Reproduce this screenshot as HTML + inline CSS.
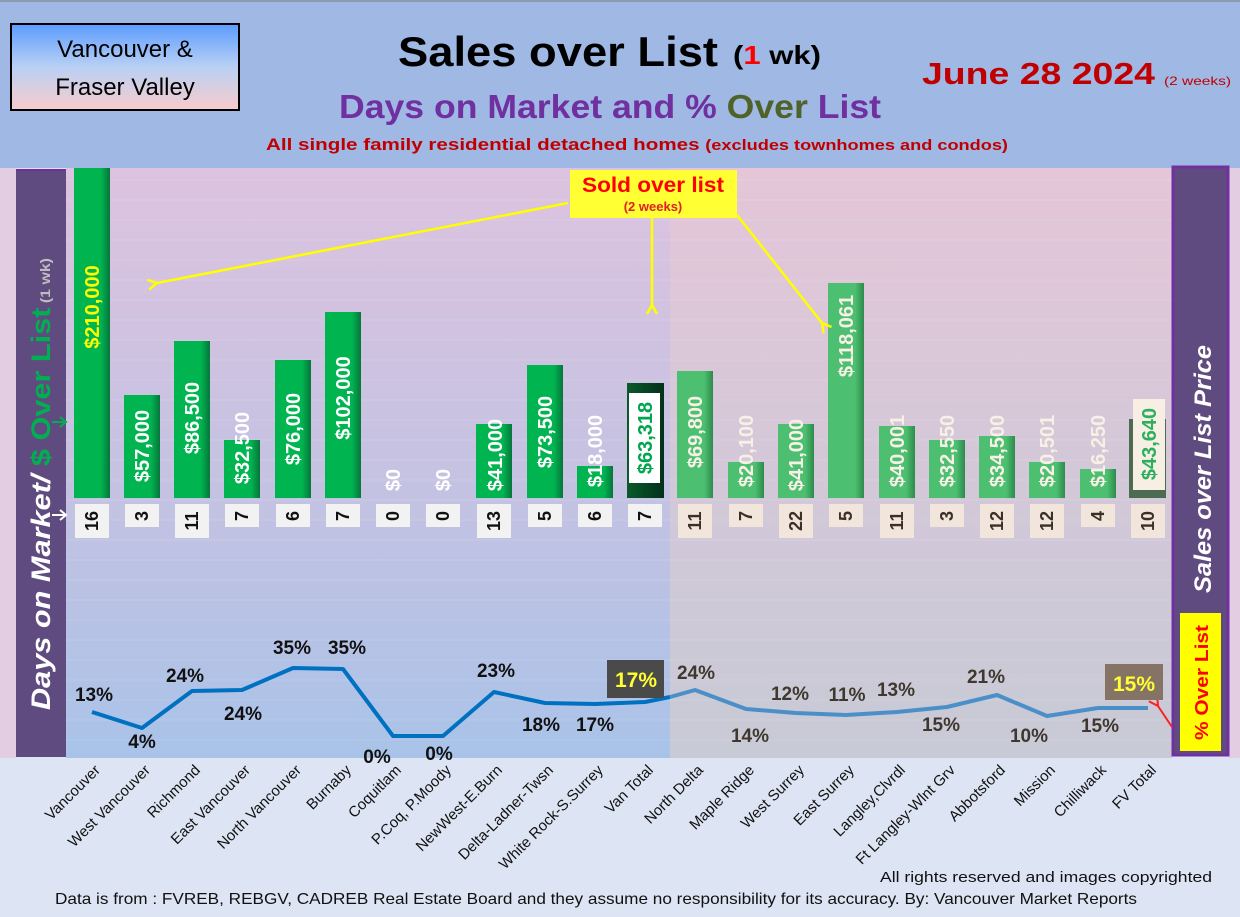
<!DOCTYPE html>
<html><head><meta charset="utf-8"><style>html,body{margin:0;padding:0;}svg{display:block;}</style></head>
<body>
<svg xmlns="http://www.w3.org/2000/svg" width="1240" height="917" viewBox="0 0 1240 917" font-family="'Liberation Sans', sans-serif">
<defs>
<linearGradient id="bgL" x1="0" y1="0" x2="0" y2="1"><stop offset="0" stop-color="#dcc3df"/><stop offset="0.55" stop-color="#c4c2e2"/><stop offset="1" stop-color="#a9c3e8"/></linearGradient>
<linearGradient id="bgR" x1="0" y1="0" x2="0" y2="1"><stop offset="0" stop-color="#e4c6d8"/><stop offset="0.55" stop-color="#d2c8d8"/><stop offset="1" stop-color="#c8cad6"/></linearGradient>
<linearGradient id="box" x1="0" y1="0" x2="0" y2="1"><stop offset="0" stop-color="#5c9cff"/><stop offset="0.5" stop-color="#b9d0f4"/><stop offset="1" stop-color="#f8cccc"/></linearGradient>
<linearGradient id="gV" x1="0" y1="0" x2="1" y2="0"><stop offset="0" stop-color="#00b450"/><stop offset="0.75" stop-color="#00b450"/><stop offset="1" stop-color="#06753a"/></linearGradient>
<linearGradient id="gF" x1="0" y1="0" x2="1" y2="0"><stop offset="0" stop-color="#4cc070"/><stop offset="0.75" stop-color="#4cc070"/><stop offset="1" stop-color="#2e8a4c"/></linearGradient>
<linearGradient id="gT" x1="0" y1="0" x2="1" y2="0"><stop offset="0" stop-color="#0a5a2a"/><stop offset="1" stop-color="#02301a"/></linearGradient>
<marker id="ah" markerWidth="12" markerHeight="12" refX="2" refY="6" orient="auto" markerUnits="userSpaceOnUse"><path d="M11,1 L2,6 L11,11" fill="none" stroke="#ffff00" stroke-width="2.5"/></marker>
<marker id="ar" markerWidth="12" markerHeight="12" refX="2" refY="6" orient="auto" markerUnits="userSpaceOnUse"><path d="M11,1 L2,6 L11,11" fill="none" stroke="#ff2020" stroke-width="2"/></marker>
</defs>
<rect width="1240" height="917" fill="#dde4f3"/>
<rect width="1240" height="168" fill="#9fb8e4"/>
<rect x="0" y="0" width="1240" height="2" fill="#8e9ab0"/>
<rect x="0" y="168" width="16" height="590" fill="#e2cde3"/>
<rect x="1229" y="168" width="11" height="590" fill="#e2cde3"/>
<rect x="66" y="168" width="604" height="590" fill="url(#bgL)"/>
<rect x="670" y="168" width="502" height="590" fill="url(#bgR)"/>
<g stroke="#ffffff" stroke-opacity="0.12" stroke-width="1">
<path d="M66,180H1172M66,200H1172M66,220H1172M66,240H1172M66,260H1172M66,280H1172M66,300H1172M66,320H1172M66,340H1172M66,360H1172M66,380H1172M66,400H1172M66,420H1172M66,440H1172M66,460H1172M66,480H1172M66,500H1172M66,520H1172M66,540H1172M66,560H1172M66,580H1172M66,600H1172M66,620H1172M66,640H1172M66,660H1172M66,680H1172M66,700H1172M66,720H1172M66,740H1172"/>
</g>
<!-- header -->
<rect x="11" y="24" width="228" height="86" fill="url(#box)" stroke="#000" stroke-width="2"/>
<text x="125" y="57" font-size="24" text-anchor="middle" fill="#000">Vancouver &amp;</text>
<text x="125" y="95" font-size="24" text-anchor="middle" fill="#000">Fraser Valley</text>
<text x="398" y="66" font-size="42" font-weight="bold" fill="#000" textLength="320" lengthAdjust="spacingAndGlyphs">Sales over List</text>
<text x="733" y="64" font-size="26" font-weight="bold" fill="#000" textLength="88" lengthAdjust="spacingAndGlyphs">(<tspan fill="#ff0000">1</tspan> wk)</text>
<text x="339" y="118" font-size="33" font-weight="bold" fill="#7030a0" textLength="542" lengthAdjust="spacingAndGlyphs">Days on Market and % <tspan fill="#4f6228">Over</tspan> List</text>
<text x="266" y="150" font-size="17" font-weight="bold" fill="#c00000" textLength="742" lengthAdjust="spacingAndGlyphs">All single family residential detached homes <tspan font-size="15">(excludes townhomes and condos)</tspan></text>
<text x="922" y="84" font-size="31" font-weight="bold" fill="#c00000" textLength="233" lengthAdjust="spacingAndGlyphs">June 28  2024</text>
<text x="1164" y="85" font-size="12" fill="#c00000" textLength="67" lengthAdjust="spacingAndGlyphs">(2 weeks)</text>
<!-- side panels -->
<rect x="16" y="169" width="50" height="588" fill="#5f4b80"/>
<rect x="16" y="169" width="50" height="2" fill="#7030a0"/>
<text transform="translate(50,710) rotate(-90)" font-size="27" font-weight="bold" fill="#fff" textLength="452" lengthAdjust="spacingAndGlyphs"><tspan font-style="italic">Days on Market/ </tspan><tspan fill="#00b050">$ Over List</tspan><tspan fill="#bdbdbd" font-size="14"> (1 wk)</tspan></text>
<path d="M52,422 H66 M60,417 L66,422 L60,427" stroke="#00b050" stroke-width="2" fill="none"/>
<path d="M52,515 H66 M60,510 L66,515 L60,520" stroke="#fff" stroke-width="2" fill="none"/>
<rect x="1173" y="167" width="55" height="588" fill="#5f4b80" stroke="#7030a0" stroke-width="3"/>
<text transform="translate(1211,593) rotate(-90)" font-size="24" font-weight="bold" font-style="italic" fill="#fff" textLength="248" lengthAdjust="spacingAndGlyphs">Sales over List Price</text>
<rect x="1180" y="613" width="41" height="138" fill="#ffff00"/>
<text transform="translate(1208,740) rotate(-90)" font-size="18" font-weight="bold" fill="#ff0000" textLength="115" lengthAdjust="spacingAndGlyphs">% Over List</text>
<!-- bars -->
<g id="bars">
<rect x="74" y="168" width="36" height="330" fill="url(#gV)"/>
<rect x="124" y="395" width="36" height="103" fill="url(#gV)"/>
<rect x="174" y="341" width="36" height="157" fill="url(#gV)"/>
<rect x="224" y="440" width="36" height="58" fill="url(#gV)"/>
<rect x="275" y="360" width="36" height="138" fill="url(#gV)"/>
<rect x="325" y="312" width="36" height="186" fill="url(#gV)"/>
<rect x="476" y="424" width="36" height="74" fill="url(#gV)"/>
<rect x="527" y="365" width="36" height="133" fill="url(#gV)"/>
<rect x="577" y="466" width="36" height="32" fill="url(#gV)"/>
<rect x="627" y="383" width="37" height="115" fill="url(#gT)"/>
<rect x="677" y="371" width="36" height="127" fill="url(#gF)"/>
<rect x="728" y="462" width="36" height="36" fill="url(#gF)"/>
<rect x="778" y="424" width="36" height="74" fill="url(#gF)"/>
<rect x="828" y="283" width="36" height="215" fill="url(#gF)"/>
<rect x="879" y="426" width="36" height="72" fill="url(#gF)"/>
<rect x="929" y="440" width="36" height="58" fill="url(#gF)"/>
<rect x="979" y="436" width="36" height="62" fill="url(#gF)"/>
<rect x="1029" y="462" width="36" height="36" fill="url(#gF)"/>
<rect x="1080" y="469" width="36" height="29" fill="url(#gF)"/>
<rect x="1129" y="419" width="37" height="79" fill="#4d6b50"/>
<rect x="629" y="393" width="31" height="90" fill="#fff"/>
<rect x="1133" y="399" width="32" height="91" fill="#f8efe4"/>
</g>
<g font-size="20" font-weight="bold" text-anchor="middle" fill="#fff">
<text transform="translate(99,307) rotate(-90)" fill="#ffff00">$210,000</text>
<text transform="translate(149,446) rotate(-90)">$57,000</text>
<text transform="translate(199,418) rotate(-90)">$86,500</text>
<text transform="translate(249,448) rotate(-90)">$32,500</text>
<text transform="translate(300,429) rotate(-90)">$76,000</text>
<text transform="translate(350,398) rotate(-90)">$102,000</text>
<text transform="translate(400,480) rotate(-90)">$0</text>
<text transform="translate(450,480) rotate(-90)">$0</text>
<text transform="translate(502,455) rotate(-90)">$41,000</text>
<text transform="translate(552,432) rotate(-90)">$73,500</text>
<text transform="translate(602,451) rotate(-90)">$18,000</text>
<text transform="translate(652,438) rotate(-90)" fill="#00a550">$63,318</text>
<g fill="#f8f0e6">
<text transform="translate(702,432) rotate(-90)">$69,800</text>
<text transform="translate(753,451) rotate(-90)">$20,100</text>
<text transform="translate(803,455) rotate(-90)">$41,000</text>
<text transform="translate(853,336) rotate(-90)">$118,061</text>
<text transform="translate(904,451) rotate(-90)">$40,001</text>
<text transform="translate(954,451) rotate(-90)">$32,550</text>
<text transform="translate(1004,451) rotate(-90)">$34,500</text>
<text transform="translate(1054,451) rotate(-90)">$20,501</text>
<text transform="translate(1105,451) rotate(-90)">$16,250</text>
</g>
<text transform="translate(1156,444) rotate(-90)" fill="#2cb060">$43,640</text>
</g>
<!-- DOM boxes -->
<g fill="#f2f2f2">
<rect x="75" y="504" width="34" height="34"/><rect x="125" y="504" width="34" height="23"/><rect x="175" y="504" width="34" height="34"/><rect x="225" y="504" width="34" height="23"/><rect x="276" y="504" width="34" height="23"/><rect x="326" y="504" width="34" height="23"/><rect x="376" y="504" width="34" height="23"/><rect x="426" y="504" width="34" height="23"/><rect x="477" y="504" width="34" height="34"/><rect x="528" y="504" width="34" height="23"/><rect x="578" y="504" width="34" height="23"/><rect x="628" y="504" width="34" height="23"/>
</g>
<g fill="#f2e6dc">
<rect x="678" y="504" width="34" height="34"/><rect x="729" y="504" width="34" height="23"/><rect x="779" y="504" width="34" height="34"/><rect x="829" y="504" width="34" height="23"/><rect x="880" y="504" width="34" height="34"/><rect x="930" y="504" width="34" height="23"/><rect x="980" y="504" width="34" height="34"/><rect x="1030" y="504" width="34" height="34"/><rect x="1081" y="504" width="34" height="23"/><rect x="1131" y="504" width="34" height="34"/>
</g>
<g font-size="18" font-weight="bold" text-anchor="middle" fill="#111">
<text transform="translate(98,521) rotate(-90)">16</text>
<text transform="translate(148,516) rotate(-90)">3</text>
<text transform="translate(198,521) rotate(-90)">11</text>
<text transform="translate(248,516) rotate(-90)">7</text>
<text transform="translate(299,516) rotate(-90)">6</text>
<text transform="translate(349,516) rotate(-90)">7</text>
<text transform="translate(399,516) rotate(-90)">0</text>
<text transform="translate(449,516) rotate(-90)">0</text>
<text transform="translate(500,521) rotate(-90)">13</text>
<text transform="translate(551,516) rotate(-90)">5</text>
<text transform="translate(601,516) rotate(-90)">6</text>
<text transform="translate(651,516) rotate(-90)">7</text>
<g fill="#3a3028">
<text transform="translate(701,521) rotate(-90)">11</text>
<text transform="translate(752,516) rotate(-90)">7</text>
<text transform="translate(802,521) rotate(-90)">22</text>
<text transform="translate(852,516) rotate(-90)">5</text>
<text transform="translate(903,521) rotate(-90)">11</text>
<text transform="translate(953,516) rotate(-90)">3</text>
<text transform="translate(1003,521) rotate(-90)">12</text>
<text transform="translate(1053,521) rotate(-90)">12</text>
<text transform="translate(1104,516) rotate(-90)">4</text>
<text transform="translate(1154,521) rotate(-90)">10</text>
</g>
</g>
<!-- callout -->
<rect x="570" y="170" width="167" height="48" fill="#ffff33"/>
<text x="653" y="192" font-size="21" font-weight="bold" fill="#ff0000" text-anchor="middle" textLength="142" lengthAdjust="spacingAndGlyphs">Sold over list</text>
<text x="653" y="211" font-size="13" font-weight="bold" fill="#e02020" text-anchor="middle">(2 weeks)</text>
<g stroke="#ffff00" stroke-width="2.5" fill="none">
<line x1="568" y1="203" x2="157" y2="283" marker-end="url(#ah)"/>
<line x1="652" y1="218" x2="652" y2="305" marker-end="url(#ah)"/>
<line x1="737" y1="215" x2="822" y2="323" marker-end="url(#ah)"/>
</g>
<!-- line -->
<polyline points="92,712 142,728 192,691 242,690 293,668 343,669 393,736 443,736 494,692 545,703 595,704 645,702 670,697" fill="none" stroke="#0070c0" stroke-width="4" stroke-linejoin="round"/>
<polyline points="670,697 695,690 746,709 796,713 846,715 897,712 947,707 997,695 1047,716 1098,708 1148,708" fill="none" stroke="#4a8fc8" stroke-width="4" stroke-linejoin="round"/>
<line x1="1172" y1="727" x2="1158" y2="706" stroke="#ff2020" stroke-width="2" marker-end="url(#ar)"/>
<g font-size="19" font-weight="bold" text-anchor="middle" fill="#111">
<text x="94" y="701">13%</text>
<text x="142" y="748">4%</text>
<text x="185" y="682">24%</text>
<text x="243" y="720">24%</text>
<text x="292" y="654">35%</text>
<text x="347" y="654">35%</text>
<text x="377" y="763">0%</text>
<text x="439" y="760">0%</text>
<text x="496" y="677">23%</text>
<text x="541" y="731">18%</text>
<text x="595" y="731">17%</text>
<g fill="#40372f">
<text x="696" y="679">24%</text>
<text x="750" y="742">14%</text>
<text x="790" y="700">12%</text>
<text x="847" y="701">11%</text>
<text x="896" y="696">13%</text>
<text x="941" y="731">15%</text>
<text x="986" y="683">21%</text>
<text x="1029" y="742">10%</text>
<text x="1100" y="732">15%</text>
</g>
</g>
<rect x="607" y="660" width="57" height="38" fill="#4a4a4a"/>
<text x="636" y="687" font-size="21" font-weight="bold" fill="#ffff33" text-anchor="middle">17%</text>
<rect x="1105" y="664" width="58" height="36" fill="#857466"/>
<text x="1134" y="691" font-size="21" font-weight="bold" fill="#ffff33" text-anchor="middle">15%</text>
<!-- category labels -->
<g font-size="15" fill="#111" text-anchor="end">
<text transform="translate(101,771) rotate(-45)">Vancouver</text>
<text transform="translate(151,771) rotate(-45)">West Vancouver</text>
<text transform="translate(201,771) rotate(-45)">Richmond</text>
<text transform="translate(251,771) rotate(-45)">East Vancouver</text>
<text transform="translate(302,771) rotate(-45)">North Vancouver</text>
<text transform="translate(352,771) rotate(-45)">Burnaby</text>
<text transform="translate(402,771) rotate(-45)">Coquitlam</text>
<text transform="translate(452,771) rotate(-45)">P.Coq, P.Moody</text>
<text transform="translate(503,771) rotate(-45)">NewWest-E.Burn</text>
<text transform="translate(554,771) rotate(-45)">Delta-Ladner-Twsn</text>
<text transform="translate(604,771) rotate(-45)">White Rock-S.Surrey</text>
<text transform="translate(654,771) rotate(-45)">Van Total</text>
<text transform="translate(704,771) rotate(-45)">North Delta</text>
<text transform="translate(755,771) rotate(-45)">Maple Ridge</text>
<text transform="translate(805,771) rotate(-45)">West Surrey</text>
<text transform="translate(855,771) rotate(-45)">East Surrey</text>
<text transform="translate(906,771) rotate(-45)">Langley,Clvrdl</text>
<text transform="translate(956,771) rotate(-45)">Ft Langley-Wlnt Grv</text>
<text transform="translate(1006,771) rotate(-45)">Abbotsford</text>
<text transform="translate(1056,771) rotate(-45)">Mission</text>
<text transform="translate(1107,771) rotate(-45)">Chilliwack</text>
<text transform="translate(1157,771) rotate(-45)">FV Total</text>
</g>
<text x="1212" y="882" font-size="15" fill="#111" text-anchor="end" textLength="332" lengthAdjust="spacingAndGlyphs">All rights reserved and  images copyrighted</text>
<text x="55" y="904" font-size="16" fill="#111" textLength="1082" lengthAdjust="spacingAndGlyphs">Data is from : FVREB, REBGV, CADREB Real Estate Board and they assume no responsibility for its accuracy. By: Vancouver Market Reports</text>
</svg>
</body></html>
